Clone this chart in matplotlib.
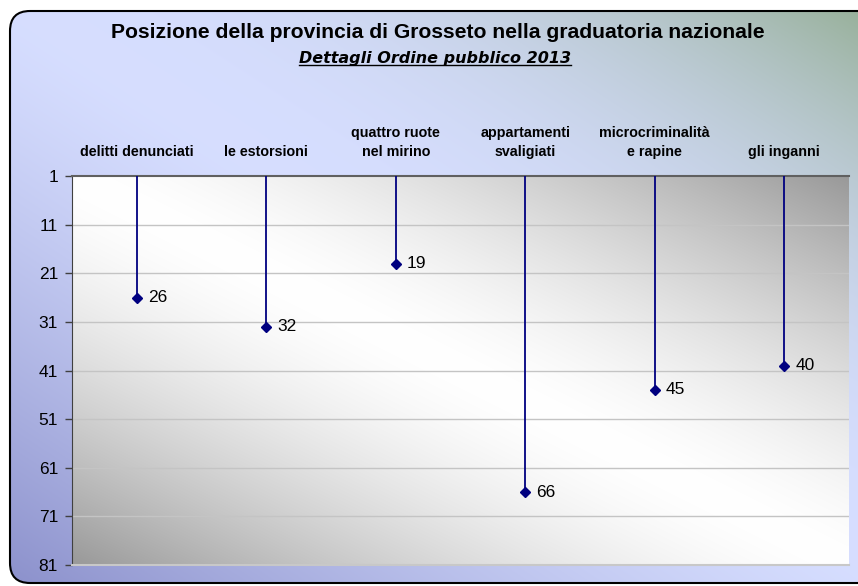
import numpy as np
import matplotlib
matplotlib.use("Agg")
import matplotlib.pyplot as plt
from matplotlib.patches import FancyBboxPatch
from matplotlib.lines import Line2D

# dati
categorie = ["delitti denunciati", "le estorsioni", "quattro ruote\nnel mirino",
             "appartamenti\nsvaligiati", "microcriminalità\ne rapine", "gli inganni"]
posizioni = [26, 32, 19, 66, 45, 40]
tick_y = [1, 11, 21, 31, 41, 51, 61, 71, 81]

titolo = "Posizione della provincia di Grosseto nella graduatoria nazionale"
sottotitolo = "Dettagli Ordine pubblico 2013"

plt.rcParams['font.family'] = ['Liberation Sans', 'DejaVu Sans']

W, H = 858, 586
fig = plt.figure(figsize=(W / 100, H / 100), dpi=100)
fig.patch.set_facecolor("white")

# pannello di sfondo con angoli arrotondati
bg = fig.add_axes([0, 0, 1, 1])
bg.set_xlim(0, W)
bg.set_ylim(H, 0)
bg.axis("off")

nx, ny = 300, 200
u = np.linspace(0, 1, nx)[None, :]
v = np.linspace(0, 1, ny)[:, None]
s = u - v
chiaro = np.array([0.84, 0.87, 1.0])
viola = np.array([0.55, 0.57, 0.80])
verde = np.array([0.58, 0.68, 0.58])
wp = np.clip(-s, 0, 1) ** 1.3
wg = np.clip(s, 0, 1) ** 2.2
img = (chiaro[None, None, :] * (1 - wp - wg)[..., None]
       + viola[None, None, :] * wp[..., None]
       + verde[None, None, :] * wg[..., None])
pannello = FancyBboxPatch((10, 11), 880, 572, boxstyle="round,pad=0,rounding_size=20",
                          facecolor="none", edgecolor="black", linewidth=1.5, zorder=3)
bg.add_patch(pannello)
im = bg.imshow(img, extent=(10, 890, 583, 11), aspect="auto", zorder=1, interpolation="bilinear")
im.set_clip_path(pannello)

# area del grafico
ax = fig.add_axes([72 / W, 1 - 565 / H, (849 - 72) / W, (565 - 176) / H])
x = np.arange(len(categorie))
ax.set_xlim(-0.5, len(categorie) - 0.5)
ax.set_ylim(81, 1)

g = 1 - 0.40 * np.abs(u - v) ** 1.5
ax.imshow(np.dstack([g, g, g]), extent=(-0.5, len(categorie) - 0.5, 81, 1),
          aspect="auto", zorder=0, interpolation="bilinear")

for t in tick_y[1:-1]:
    ax.axhline(t, color="#c4c4c4", linewidth=1, zorder=1)

ax.vlines(x, 1, posizioni, color="#000080", linewidth=1.3, zorder=3)
ax.plot(x, posizioni, linestyle="none", marker="D", markersize=5.5,
        color="#000080", zorder=4)
for xi, p in zip(x, posizioni):
    ax.annotate(str(p), (xi, p), xytext=(8, 0), textcoords="offset points",
                va="center", ha="left", fontsize=12.5, color="black", zorder=5)

ax.set_yticks(tick_y)
ax.set_yticklabels([str(t) for t in tick_y], fontsize=12.5)
ax.tick_params(axis="y", direction="out", length=5, width=1, color="#404040", pad=5)

ax.xaxis.tick_top()
ax.set_xticks(x)
ax.set_xticklabels(categorie, fontsize=10.3, fontweight="bold", linespacing=1.45)
ax.tick_params(axis="x", length=0, pad=12)

ax.spines["right"].set_visible(False)
ax.spines["left"].set_color("#404040")
ax.spines["top"].set_color("#606060")
ax.spines["top"].set_linewidth(1.5)
ax.spines["bottom"].set_color("#c8c8c8")
ax.spines["bottom"].set_linewidth(1.5)

# titoli
fig.text(438 / W, 1 - 32 / H, titolo, ha="center", va="center",
         fontsize=15.2, fontweight="bold")
sub = fig.text(435 / W, 1 - 58 / H, sottotitolo, ha="center", va="center",
               fontsize=11.5, fontweight="bold", style="italic",
               family=['DejaVu Sans'])
fig.canvas.draw()
bb = sub.get_window_extent()
fig.add_artist(Line2D([bb.x0 / W, bb.x1 / W], [(bb.y0 + 1) / H, (bb.y0 + 1) / H],
                      transform=fig.transFigure, color="black", linewidth=1))

fig.savefig("out.png", dpi=100)
